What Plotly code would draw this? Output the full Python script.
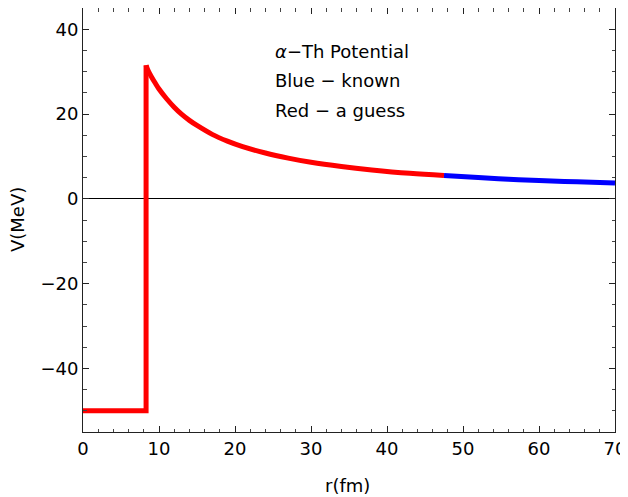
import plotly.graph_objects as go

# red: square well (the guess)
r_well = [0, 8.3, 8.3]
v_well = [-50, -50, 31.5]

# red: Coulomb tail inside the guessed range
r_red = [8.3, 8.6, 9, 9.5, 10, 11, 12, 13, 14, 15, 17, 19, 21, 24, 27, 30, 34, 38, 43, 47.5]
v_red = [31.5, 30.1, 28.8, 27.3, 25.9, 23.6, 21.6, 19.9, 18.5, 17.3, 15.2, 13.6, 12.3, 10.8, 9.6, 8.6, 7.6, 6.8, 6.0, 5.5]

# blue: known Coulomb part
r_blue = [47.5, 52, 56, 60, 65, 70]
v_blue = [5.5, 5.0, 4.6, 4.3, 4.0, 3.7]

notes = ["<i>α</i>−Th Potential", "Blue − known", "Red − a guess"]
note_y = [34.8, 27.8, 20.9]

font = "DejaVu Sans, sans-serif"
lw = 5

fig = go.Figure()
fig.add_trace(go.Scatter(x=r_well, y=v_well, mode="lines", line=dict(color="#ff0000", width=lw), showlegend=False))
fig.add_trace(go.Scatter(x=r_red, y=v_red, mode="lines", line=dict(color="#ff0000", width=lw, shape="spline"), showlegend=False))
fig.add_trace(go.Scatter(x=r_blue, y=v_blue, mode="lines", line=dict(color="#0000ff", width=lw, shape="spline"), showlegend=False))

for txt, yy in zip(notes, note_y):
    fig.add_annotation(x=25, y=yy, text=txt, showarrow=False, xanchor="left", yanchor="middle",
                       font=dict(size=18, color="black", family=font))

# axis titles placed by hand, like the frame labels in the original
fig.add_annotation(xref="paper", yref="paper", x=0.498, y=-0.127, text="r(fm)", showarrow=False,
                   xanchor="center", yanchor="middle", font=dict(size=18, color="black", family=font))
fig.add_annotation(xref="paper", yref="paper", x=-0.124, y=0.50, text="V(MeV)", showarrow=False, textangle=-90,
                   xanchor="center", yanchor="middle", font=dict(size=18, color="black", family=font))

axis_kw = dict(showgrid=False, showline=True, linecolor="#222", linewidth=1, mirror="ticks", automargin=False,
               ticks="inside", ticklen=6, tickcolor="#222", tickfont=dict(size=18, color="black", family=font))

fig.update_xaxes(range=[0, 70], dtick=10, zeroline=False,
                 minor=dict(dtick=2, ticks="inside", ticklen=3.5, tickcolor="#444"), **axis_kw)
fig.update_yaxes(range=[-55, 45], dtick=20, zeroline=True, zerolinecolor="black", zerolinewidth=1,
                 minor=dict(dtick=5, ticks="inside", ticklen=3.5, tickcolor="#444"), **axis_kw)

# page body adds 8px offset, so the figure is sized to fit the window after it
fig.update_layout(width=620, height=489, plot_bgcolor="white", paper_bgcolor="white",
                  margin=dict(l=75, r=13, t=0, b=65), font=dict(family=font))

fig.write_html("out.html")
